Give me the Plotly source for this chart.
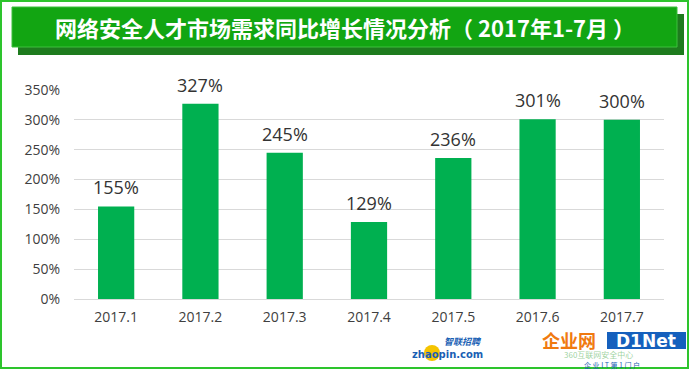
import plotly.graph_objects as go

categories = ["2017.1", "2017.2", "2017.3", "2017.4", "2017.5", "2017.6", "2017.7"]
growth_pct = [155, 327, 245, 129, 236, 301, 300]
y_ticks = [0, 50, 100, 150, 200, 250, 300, 350]
title_text = "网络安全人才市场需求同比增长情况分析（ 2017年1-7月 ）"

W, H = 690, 370
L, R, T, B = 74, 664, 90, 299


def px(x):
    return (x - L) / (R - L)


def py(y):
    return (B - y) / (B - T)


fig = go.Figure()
fig.add_trace(go.Bar(
    x=categories, y=growth_pct,
    marker=dict(color="#00B050", line=dict(width=0)),
    width=0.43,
    hoverinfo="skip",
))

shapes = [
    # outer frame
    dict(type="rect", xref="paper", yref="paper", x0=px(1), x1=px(688), y0=py(368), y1=py(1),
         line=dict(color="#2DC42D", width=2), fillcolor="rgba(0,0,0,0)", layer="below"),
    # banner shadow
    dict(type="rect", xref="paper", yref="paper", x0=px(18), x1=px(684), y0=py(55), y1=py(14),
         line=dict(width=0), fillcolor="#1E7B1E", layer="below"),
    # banner
    dict(type="rect", xref="paper", yref="paper", x0=px(12), x1=px(677), y0=py(47), y1=py(7),
         line=dict(width=1, color="#3CC03C"), fillcolor="#12A512", layer="below"),
    # watermark shapes
    dict(type="circle", xref="paper", yref="paper", x0=px(424), x1=px(440), y0=py(361), y1=py(345),
         line=dict(width=0), fillcolor="#F5C400", layer="above"),
    dict(type="rect", xref="paper", yref="paper", x0=px(607), x1=px(686), y0=py(349), y1=py(332),
         line=dict(width=0), fillcolor="#1560BD", layer="above"),
]

annotations = [
    dict(text=f"{v}%", x=i, y=v, xref="x", yref="y", showarrow=False,
         xanchor="center", yanchor="bottom", yshift=5,
         font=dict(family="Open Sans, Noto Sans, sans-serif", size=18, color="#333333"))
    for i, v in enumerate(growth_pct)
]

annotations += [
    dict(text=f"<b>{title_text}</b>", xref="paper", yref="paper", x=px(345), y=py(27),
         showarrow=False, xanchor="center", yanchor="middle",
         font=dict(family="Noto Sans CJK SC", size=22, color="white")),
    dict(text="<b><i>智联招聘</i></b>", xref="paper", yref="paper", x=px(463), y=py(341),
         showarrow=False, xanchor="center", yanchor="middle",
         font=dict(family="Noto Sans CJK SC", size=9, color="#1A5FB4")),
    dict(text="<b>zhaopin.com</b>", xref="paper", yref="paper", x=px(447), y=py(354),
         showarrow=False, xanchor="center", yanchor="middle",
         font=dict(family="DejaVu Sans", size=10, color="#1A5FB4")),
    dict(text="<b>企业网</b>", xref="paper", yref="paper", x=px(569), y=py(340),
         showarrow=False, xanchor="center", yanchor="middle",
         font=dict(family="Noto Sans CJK SC", size=18, color="#F07A10")),
    dict(text="<b>D1Net</b>", xref="paper", yref="paper", x=px(646), y=py(341),
         showarrow=False, xanchor="center", yanchor="middle",
         font=dict(family="DejaVu Sans", size=17, color="white")),
    dict(text="360互联网安全中心", xref="paper", yref="paper", x=px(598), y=py(354),
         showarrow=False, xanchor="center", yanchor="middle",
         font=dict(family="Noto Sans CJK SC", size=8, color="rgba(90,180,90,0.6)")),
    dict(text="企 业 I T 第 1 门 户", xref="paper", yref="paper", x=px(612), y=py(365),
         showarrow=False, xanchor="center", yanchor="middle",
         font=dict(family="Noto Sans CJK SC", size=7, color="#1A5FB4")),
]

fig.update_layout(
    width=W, height=H,
    margin=dict(l=L, r=W - R, t=T, b=H - B, pad=0),
    paper_bgcolor="white", plot_bgcolor="white",
    showlegend=False,
    bargap=0.57,
    shapes=shapes,
    annotations=annotations,
    xaxis=dict(
        type="category", range=[-0.5, len(categories) - 0.5],
        showgrid=False, showline=False, zeroline=False, ticks="",
        tickfont=dict(family="Open Sans, Noto Sans, sans-serif", size=14, color="#404040"),
        ticklabelstandoff=8,
    ),
    yaxis=dict(
        range=[0, 350], tickvals=y_ticks, ticktext=[f"{v}%" for v in y_ticks],
        showgrid=True, gridcolor="#D9D9D9", gridwidth=1,
        zeroline=True, zerolinecolor="#D9D9D9", zerolinewidth=1,
        showline=False, ticks="",
        tickfont=dict(family="Open Sans, Noto Sans, sans-serif", size=14, color="#404040"),
        ticklabelstandoff=13,
    ),
)

fig.write_html(
    "out.html",
    config={"displayModeBar": False},
    post_script="document.body.style.margin='0';document.body.style.overflow='hidden';",
)
